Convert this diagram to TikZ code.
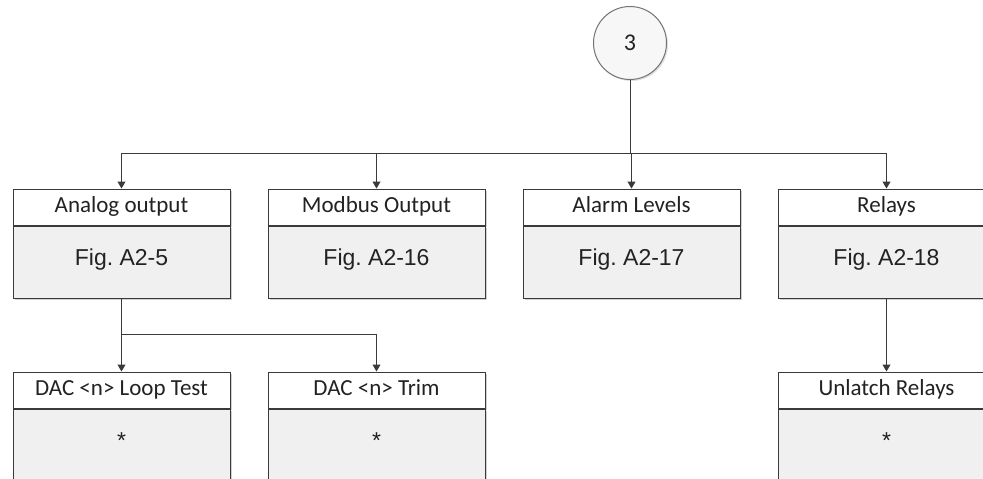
\documentclass[tikz,border=0pt]{standalone}
\usepackage{fontspec}
\setmainfont{Carlito}
\newfontfamily\figfont{Liberation Sans}
\usepackage{tikz}
\usetikzlibrary{arrows.meta,positioning,calc,shadows}
\definecolor{clLine}{HTML}{3A3A3A}
\definecolor{clText}{HTML}{222222}
\definecolor{clBody}{HTML}{F0F0F0}
\frenchspacing
\tikzset{
  box/.style={rectangle, draw=clLine, line width=1pt, text=clText, minimum width=217pt,
              inner sep=0pt, drop shadow={shadow xshift=2pt, shadow yshift=-2pt, opacity=0.18, fill=black}},
  head/.style={box, fill=white, minimum height=36pt, text height=15pt, text depth=4pt,
               font=\fontsize{23}{26}\selectfont},
  body/.style={box, fill=clBody, minimum height=72pt, text height=16pt, text depth=10pt,
               font=\figfont\fontsize{23}{26}\selectfont},
  circ/.style={circle, draw=black!55, line width=1pt, fill=black!3, minimum size=73pt,
               text=clText, font=\fontsize{24}{26}\selectfont,
               drop shadow={shadow xshift=1.5pt, shadow yshift=-1.5pt, opacity=0.12, fill=black}},
  flow/.style={-{Triangle[width=8pt,length=7pt]}, line width=1pt, draw=clLine},
}
\begin{document}
\begin{tikzpicture}[x=1pt, y=1pt, node distance=0pt and 37pt]
  \useasboundingbox (0,0) rectangle (983,-479);
  % start marker
  \node[circ] (start) at (630,-43) {3};
  \coordinate (bus) at (630,-153);
  % first level
  \node[head] (ao) at (121.5,-207) {Analog output};
  \node[head, right=of ao] (mo) {Modbus Output};
  \node[head, right=of mo] (al) {Alarm Levels};
  \node[head, right=of al] (re) {Relays};
  \node[body, below=of ao] (aoF) {Fig. A2-5};
  \node[body, below=of mo] (moF) {Fig. A2-16};
  \node[body, below=of al] (alF) {Fig. A2-17};
  \node[body, below=of re] (reF) {Fig. A2-18};
  % second level
  \node[head, below=73pt of aoF] (loop) {DAC <n> Loop Test};
  \node[head, right=of loop] (trim) {DAC <n> Trim};
  \node[head, below=73pt of reF] (unl) {Unlatch Relays};
  \node[body, below=of loop] (loopF) {*};
  \node[body, below=of trim] (trimF) {*};
  \node[body, below=of unl] (unlF) {*};
  % connectors
  \foreach \n in {ao,mo,al,re}
    \draw[flow] (start.south) -- (start.south |- bus) -| (\n.north);
  \foreach \n in {loop,trim}
    \draw[flow] (aoF.south) -- ++(0,-36) -| (\n.north);
  \draw[flow] (reF.south) -- (unl.north);
\end{tikzpicture}
\end{document}
